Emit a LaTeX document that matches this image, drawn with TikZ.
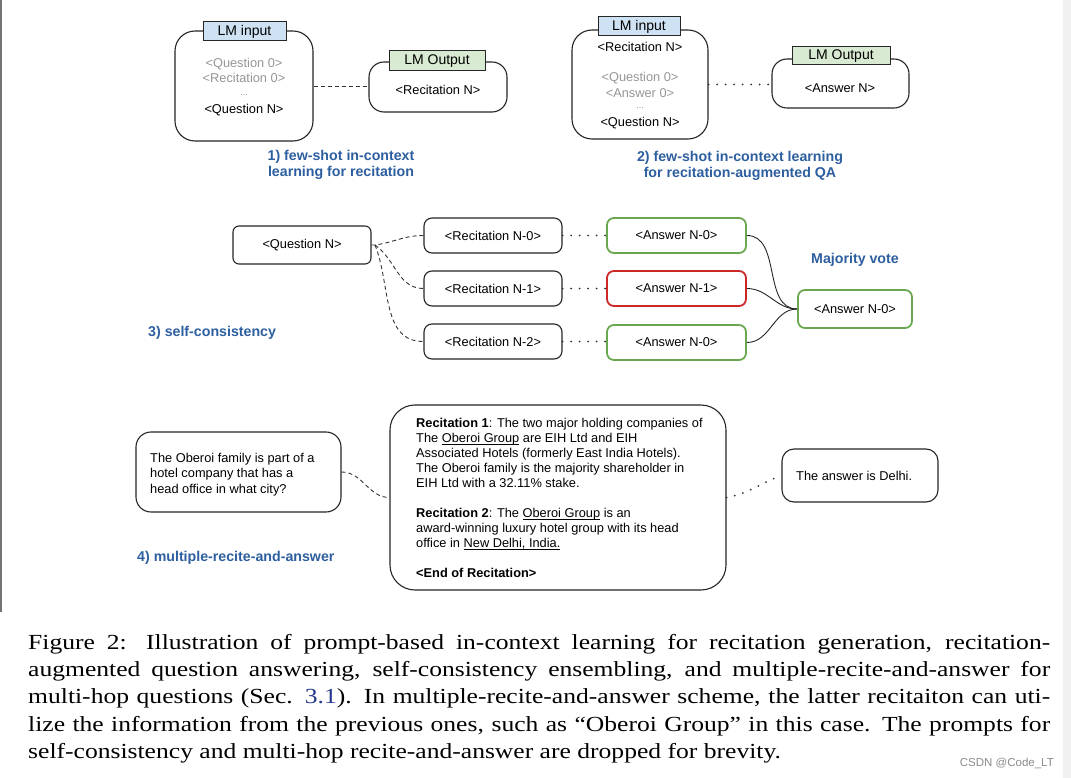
\documentclass[tikz,border=0pt]{standalone}
\usepackage{fontspec}
\setmainfont{Liberation Serif}
\setsansfont{Liberation Sans}
\newfontfamily\arial{Liberation Sans}
\newfontfamily\capfont[FakeStretch=1.19]{Liberation Serif}
\definecolor{lblue}{RGB}{207,226,243}
\definecolor{lgreen}{RGB}{217,234,211}
\definecolor{capblue}{RGB}{45,95,160}
\definecolor{okgreen}{RGB}{106,168,79}
\definecolor{badred}{RGB}{204,40,40}
\definecolor{txtgray}{RGB}{150,150,150}
\definecolor{linkblue}{RGB}{35,55,140}
\newcommand\myul[1]{\setbox0\hbox{#1}\rlap{\rule[-2.3pt]{\wd0}{0.75pt}}\box0\relax}
\begin{document}
\begin{tikzpicture}[x=1pt,y=-1pt,
  every node/.style={inner sep=0pt},
  txt/.style={font=\arial\fontsize{12.8}{15}\selectfont},
  gtxt/.style={txt, text=txtgray},
  bx/.style={draw=black!85, line width=1.1pt, rounded corners=#1},
  bx/.default=7pt,
  gbx/.style={draw=okgreen, line width=1.8pt, rounded corners=7pt, font=\arial\fontsize{12.8}{15}\selectfont},
  rbx/.style={draw=badred, line width=1.8pt, rounded corners=7pt, font=\arial\fontsize{12.8}{15}\selectfont},
  lab/.style={draw=black!85, line width=1pt, font=\arial\fontsize{14}{16}\selectfont},
  blab/.style={text=capblue, font=\arial\bfseries\fontsize{14.2}{16.5}\selectfont},
  dashline/.style={line width=0.9pt, dash pattern=on 4pt off 3pt, draw=black!80},
  dotline/.style={line width=2pt, line cap=round, dash pattern=on 0pt off 8.5pt, draw=black!80},
  vline/.style={line width=0.9pt, draw=black!85}
]
\fill[white] (0,0) rectangle (1071,778);
\useasboundingbox (0,0) rectangle (1071,778);
\fill[black!6] (1063,0) rectangle (1071,778);
\draw[black!55, line width=1.5pt] (1,0) -- (1,612);

% ---------- section 1
\node[bx=20pt, minimum width=138pt, minimum height=110pt] (in1) at (244,86) {};
\node[lab, fill=lblue, minimum width=83pt, minimum height=19pt] (in1lab) at (244.5,31.5) {LM input};
\node[gtxt] (t1a) at (244,64) {<Question 0>};
\node[gtxt] (t1b) at (244,78) {<Recitation 0>};
\node[gtxt, font=\arial\fontsize{9}{10}\selectfont] (t1c) at (244,95) {...};
\node[txt] (t1d) at (244,110) {<Question N>};
\node[bx=15pt, minimum width=138pt, minimum height=50pt] (out1) at (438,87) {};
\node[lab, fill=lgreen, minimum width=96pt, minimum height=20pt] (out1lab) at (437,61) {LM Output};
\node[txt] (t1e) at (438,90) {<Recitation N>};
\draw[dashline] (in1.east) -- (in1.east -| out1.west);
\node[blab, align=center] (l1) at (341,165) {1) few-shot in-context\\learning for recitation};

% ---------- section 2
\node[bx=20pt, minimum width=136pt, minimum height=109pt] (in2) at (640,84.5) {};
\node[lab, fill=lblue, minimum width=82pt, minimum height=19pt] (in2lab) at (639,26.5) {LM input};
\node[txt] (t2a) at (640,47) {<Recitation N>};
\node[gtxt] (t2b) at (640,78) {<Question 0>};
\node[gtxt] (t2c) at (640,93) {<Answer 0>};
\node[gtxt, font=\arial\fontsize{9}{10}\selectfont] (t2d) at (640,108) {...};
\node[txt] (t2e) at (640,123) {<Question N>};
\node[bx=15pt, minimum width=137pt, minimum height=49pt] (out2) at (840.5,83.5) {};
\node[lab, fill=lgreen, minimum width=98pt, minimum height=18pt] (out2lab) at (841,56) {LM Output};
\node[txt] (t2f) at (840,88) {<Answer N>};
\draw[dotline] (in2.east) -- (in2.east -| out2.west);
\node[blab, align=center] (l2) at (740,166) {2) few-shot in-context learning\\for recitation-augmented QA};

% ---------- section 3
\node[bx=6pt, txt, minimum width=138pt, minimum height=38pt] (q3) at (302,245) {<Question N>};
\node[bx=8pt, txt, minimum width=138pt, minimum height=35pt] (r0) at (493,235.5) {<Recitation N-0>};
\node[bx=8pt, txt, minimum width=138pt, minimum height=35pt] (r1) at (493,288.5) {<Recitation N-1>};
\node[bx=8pt, txt, minimum width=138pt, minimum height=35pt] (r2) at (493,341.5) {<Recitation N-2>};
\node[gbx, minimum width=139pt, minimum height=35pt] (a0) at (676.5,235.5) {<Answer N-0>};
\node[rbx, minimum width=139pt, minimum height=35pt] (a1) at (676.5,288.5) {<Answer N-1>};
\node[gbx, minimum width=139pt, minimum height=35pt] (a2) at (676.5,342.5) {<Answer N-0>};
\node[gbx, minimum width=114pt, minimum height=38pt] (fin) at (855,309) {<Answer N-0>};
\node[blab] (mv) at (855,260) {Majority vote};
\node[blab, anchor=west] (l3) at (148,333) {3) self-consistency};
\coordinate (qs) at (375,245);
\draw[dashline] (q3.east) -- (qs) to[out=8,in=180] (r0.west);
\draw[dashline] (qs) to[out=-35,in=180] (r1.west);
\draw[dashline] (qs) to[out=-68,in=180] (r2.west);
\draw[dotline] (r0.east) -- (r0.east -| a0.west);
\draw[dotline] (r1.east) -- (r1.east -| a1.west);
\draw[dotline] (r2.east) -- (r2.east -| a2.west);
\draw[vline] (a0.east) to[out=0,in=180] (fin.west);
\draw[vline] (a1.east) to[out=0,in=180] (fin.west);
\draw[vline] (a2.east) to[out=0,in=180] (fin.west);

% ---------- section 4
\node[bx=15pt, minimum width=205pt, minimum height=80pt] (q4) at (238.5,472) {};
\node[txt, anchor=north west, align=left, font=\arial\fontsize{12.8}{15.5}\selectfont] (q4t) at (150,453)
  {The Oberoi family is part of a\\hotel company that has a\\head office in what city?};
\node[bx=25pt, minimum width=336pt, minimum height=185pt] (rec4) at (558,497.5) {};
\node[txt, anchor=north west, align=left] (rec4t) at (416,418)
  {\textbf{Recitation 1}: The two major holding companies of\\
   The \myul{Oberoi Group} are EIH Ltd and EIH\\
   Associated Hotels (formerly East India Hotels).\\
   The Oberoi family is the majority shareholder in\\
   EIH Ltd with a 32.11\% stake.\\[15pt]
   \textbf{Recitation 2}: The \myul{Oberoi Group} is an\\
   award-winning luxury hotel group with its head\\
   office in \myul{New Delhi, India.}\\[15pt]
   \textbf{<End of Recitation>}};
\node[bx=12pt, txt, minimum width=156pt, minimum height=53pt] (ans4) at (860,475.5) {};
\node[txt, anchor=west] (ans4t) at (796,476) {The answer is Delhi.};
\node[blab, anchor=west] (l4) at (137,558) {4) multiple-recite-and-answer};
\draw[dashline] (q4.east) to[out=0,in=180] (rec4.west);
\draw[dotline] (rec4.east) to[out=10,in=200] (ans4.west);

% ---------- caption
\node[anchor=north west, align=left, font=\capfont\fontsize{21.5}{27.3}\selectfont] (cap) at (28,634)
  {\makebox[1022pt][s]{Figure 2: Illustration of prompt-based in-context learning for recitation generation, recitation-}\\
   \makebox[1022pt][s]{augmented question answering, self-consistency ensembling, and multiple-recite-and-answer for}\\
   \makebox[1022pt][s]{multi-hop questions (Sec. \textcolor{linkblue}{3.1}). In multiple-recite-and-answer scheme, the latter recitaiton can uti-}\\
   \makebox[1022pt][s]{lize the information from the previous ones, such as “Oberoi Group” in this case. The prompts for}\\
   self-consistency and multi-hop recite-and-answer are dropped for brevity.};
\node[anchor=east, text=black!45, font=\arial\fontsize{11.5}{13}\selectfont] (wm) at (1054,763) {CSDN @Code\_LT};
\end{tikzpicture}
\end{document}
